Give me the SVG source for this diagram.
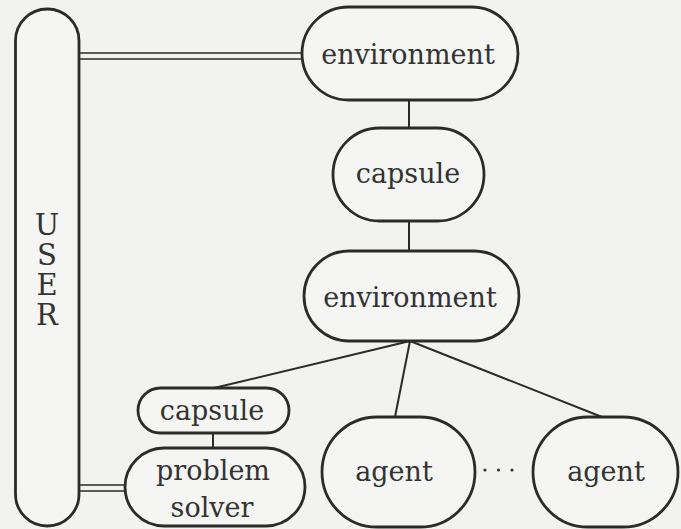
<svg xmlns="http://www.w3.org/2000/svg" width="681" height="529" viewBox="0 0 681 529">
  <style>
    .node { fill: #f5f5f3; stroke: #2b2b2b; stroke-width: 2.8; }
    .edge { stroke: #2b2b2b; stroke-width: 2; fill: none; }
    .dbl { stroke: #2b2b2b; stroke-width: 1.6; fill: none; }
    .lbl { font-family: "DejaVu Serif", "Liberation Serif", serif; font-size: 27px; fill: #333; text-anchor: middle; }
    .vert { font-size: 29px; writing-mode: vertical-rl; text-orientation: upright; letter-spacing: -4px; }
    .dot { fill: #333; }
  </style>
  <rect x="0" y="0" width="681" height="529" fill="#f2f2f0"/>

  <!-- connectors -->
  <g id="connectors">
    <!-- double links from USER -->
    <line class="dbl" x1="79" y1="53" x2="303" y2="53"/>
    <line class="dbl" x1="79" y1="59" x2="303" y2="59"/>
    <line class="dbl" x1="79" y1="485" x2="126" y2="485"/>
    <line class="dbl" x1="79" y1="491" x2="126" y2="491"/>
    <!-- tree links -->
    <line class="edge" x1="409" y1="100" x2="409" y2="128"/>
    <line class="edge" x1="409" y1="221" x2="409" y2="251"/>
    <line class="edge" x1="410" y1="341" x2="214" y2="388"/>
    <line class="edge" x1="410" y1="341" x2="395" y2="417"/>
    <line class="edge" x1="410" y1="341" x2="602" y2="417"/>
    <line class="edge" x1="213" y1="433" x2="213" y2="448"/>
  </g>

  <g id="user">
    <rect class="node" x="15.5" y="9" width="63.5" height="517" rx="31.75" ry="31.75"/>
    <text class="lbl vert" x="47" y="268">USER</text>
  </g>

  <g id="environment-top">
    <rect class="node" x="302" y="7" width="216" height="93" rx="46.5" ry="46.5"/>
    <text class="lbl" x="408" y="64">environment</text>
  </g>

  <g id="capsule-top">
    <rect class="node" x="333" y="128" width="151" height="93" rx="46.5" ry="46.5"/>
    <text class="lbl" x="408" y="183">capsule</text>
  </g>

  <g id="environment-inner">
    <rect class="node" x="304" y="251" width="215" height="90" rx="45" ry="45"/>
    <text class="lbl" x="410" y="307">environment</text>
  </g>

  <g id="capsule-small">
    <rect class="node" x="138" y="388" width="151" height="45" rx="22.5" ry="22.5"/>
    <text class="lbl" x="212" y="420">capsule</text>
  </g>

  <g id="problem-solver">
    <rect class="node" x="125" y="448" width="180" height="78" rx="39" ry="39"/>
    <text class="lbl" x="213" y="480">problem<tspan x="212" dy="37">solver</tspan></text>
  </g>

  <g id="agent-1">
    <rect class="node" x="322" y="417" width="153" height="110" rx="55" ry="55"/>
    <text class="lbl" x="394" y="481">agent</text>
  </g>

  <g id="ellipsis">
    <circle class="dot" cx="485" cy="470" r="1.6"/>
    <circle class="dot" cx="498.5" cy="470" r="1.6"/>
    <circle class="dot" cx="512" cy="470" r="1.6"/>
  </g>

  <g id="agent-2">
    <rect class="node" x="533" y="417" width="145" height="110" rx="55" ry="55"/>
    <text class="lbl" x="606" y="481">agent</text>
  </g>
</svg>
